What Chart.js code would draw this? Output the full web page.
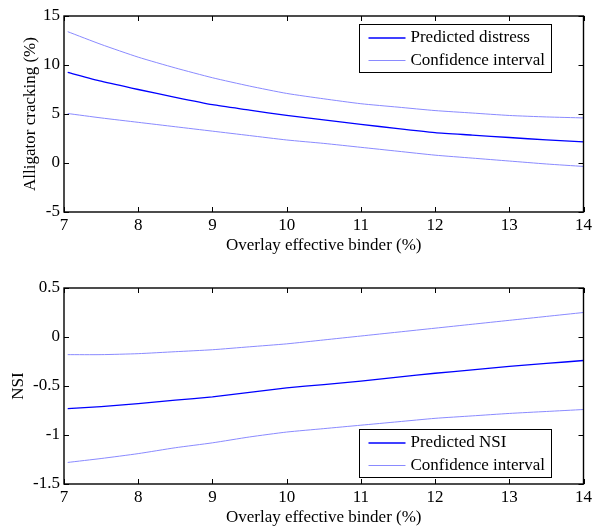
<!DOCTYPE html>
<html lang="en">
<head>
<meta charset="UTF-8">
<title>Overlay effective binder</title>
<script src="https://cdn.jsdelivr.net/npm/chart.js"></script>
<style>
    body { margin: 0; background: #fff; }
    #wrap { position: relative; width: 595px; height: 529px; }
    canvas { position: absolute; left: 0; }
</style>
</head>
<body>
<div id="wrap">
    <canvas id="cracking" width="595" height="257" style="top:0"></canvas>
    <canvas id="nsi" width="595" height="257" style="top:272px"></canvas>
</div>
<script>
// values
const binder = [7.05, 7.5, 8, 8.5, 9, 9.5, 10, 10.5, 11, 11.5, 12, 12.5, 13, 13.5, 14];

const crackPred  = [9.25, 8.35, 7.5, 6.7, 5.95, 5.4, 4.85, 4.4, 3.95, 3.5, 3.1, 2.85, 2.6, 2.35, 2.15];
const crackUpper = [13.4, 12.1, 10.8, 9.7, 8.7, 7.85, 7.1, 6.55, 6.05, 5.7, 5.35, 5.1, 4.85, 4.7, 4.6];
const crackLower = [5.05, 4.6, 4.15, 3.7, 3.25, 2.8, 2.35, 2.0, 1.6, 1.2, 0.8, 0.5, 0.2, -0.1, -0.35];

const nsiPred  = [-0.73, -0.71, -0.68, -0.645, -0.61, -0.565, -0.52, -0.485, -0.45, -0.41, -0.37, -0.335, -0.30, -0.27, -0.24];
const nsiUpper = [-0.18, -0.18, -0.17, -0.15, -0.13, -0.10, -0.07, -0.03, 0.01, 0.05, 0.09, 0.13, 0.17, 0.21, 0.25];
const nsiLower = [-1.28, -1.24, -1.19, -1.13, -1.08, -1.02, -0.97, -0.935, -0.90, -0.865, -0.83, -0.805, -0.78, -0.76, -0.74];

const binderTicks = [7, 8, 9, 10, 11, 12, 13, 14];
const crackTicks = [-5, 0, 5, 10, 15];
const nsiTicks = [-1.5, -1, -0.5, 0, 0.5];

const FONT = "'Times New Roman', 'Liberation Serif', serif";
const DARK = '#0000ff';
const LIGHT = '#8a8aff';

function pts(ys) {
    return binder.map((x, i) => ({ x: x, y: ys[i] }));
}

// MATLAB-like box with inward ticks plus an inset legend
const frame = {
    id: 'frame',
    afterDatasetsDraw(chart, args, opts) {
        const { ctx, chartArea: a, scales: { x, y } } = chart;
        const len = 5;
        ctx.save();
        ctx.strokeStyle = '#000';
        ctx.lineWidth = 1;
        ctx.beginPath();
        x.ticks.forEach(t => {
            const px = Math.round(x.getPixelForValue(t.value)) + 0.5;
            ctx.moveTo(px, a.bottom); ctx.lineTo(px, a.bottom - len);
            ctx.moveTo(px, a.top); ctx.lineTo(px, a.top + len);
        });
        y.ticks.forEach(t => {
            const py = Math.round(y.getPixelForValue(t.value)) + 0.5;
            ctx.moveTo(a.left, py); ctx.lineTo(a.left + len, py);
            ctx.moveTo(a.right, py); ctx.lineTo(a.right - len, py);
        });
        ctx.stroke();
        ctx.lineWidth = 1.4;
        ctx.strokeRect(a.left, a.top, a.right - a.left, a.bottom - a.top);

        // legend
        const items = chart.data.datasets.filter(d => d.inLegend);
        const w = 192, h = 48;
        const bx = Math.round(a.right - opts.right - w) + 0.5;
        const by = opts.top != null ? Math.round(a.top + opts.top) + 0.5 : Math.round(a.bottom - opts.bottom - h) + 0.5;
        ctx.fillStyle = '#fff';
        ctx.fillRect(bx, by, w, h);
        ctx.lineWidth = 1;
        ctx.strokeStyle = '#000';
        ctx.strokeRect(bx, by, w, h);
        ctx.font = '17px ' + FONT;
        ctx.textBaseline = 'middle';
        items.forEach((d, i) => {
            const ry = by + 13.5 + i * 22.5;
            ctx.strokeStyle = d.borderColor;
            ctx.lineWidth = d.borderWidth;
            ctx.beginPath();
            ctx.moveTo(bx + 9, ry); ctx.lineTo(bx + 46, ry);
            ctx.stroke();
            ctx.fillStyle = '#000';
            ctx.fillText(d.label, bx + 51, ry);
        });
        ctx.restore();
    }
};

function makeChart(id, pred, upper, lower, predLabel, yTicks, yTitle, yTitlePad, legendPos) {
    const yMin = yTicks[0], yMax = yTicks[yTicks.length - 1];
    return new Chart(document.getElementById(id), {
        type: 'scatter',
        data: {
            datasets: [
                { label: predLabel, data: pts(pred), borderColor: DARK, borderWidth: 1.3, inLegend: true },
                { label: 'Confidence interval', data: pts(upper), borderColor: LIGHT, borderWidth: 1, inLegend: true },
                { label: 'Confidence interval', data: pts(lower), borderColor: LIGHT, borderWidth: 1 }
            ].map(d => Object.assign(d, { showLine: true, pointRadius: 0, tension: 0.2, fill: false }))
        },
        options: {
            responsive: false,
            animation: false,
            events: [],
            layout: { padding: { top: 16, right: 11, left: 0, bottom: 0 } },
            plugins: {
                legend: { display: false },
                tooltip: { enabled: false },
                frame: legendPos
            },
            scales: {
                x: {
                    type: 'linear',
                    min: 7, max: 14,
                    afterBuildTicks: s => { s.ticks = binderTicks.map(v => ({ value: v })); },
                    afterFit: s => { s.height = 45; },
                    grid: { display: false, drawTicks: false },
                    border: { display: false },
                    ticks: { color: '#000', padding: 3, maxRotation: 0, font: { family: FONT, size: 17 }, callback: v => String(v) },
                    title: { display: true, text: 'Overlay effective binder (%)', color: '#000', font: { family: FONT, size: 17 }, padding: { top: 0, bottom: 1 } }
                },
                y: {
                    type: 'linear',
                    min: yMin, max: yMax,
                    afterBuildTicks: s => { s.ticks = yTicks.map(v => ({ value: v })); },
                    afterFit: s => { s.width = 64; },
                    grid: { display: false, drawTicks: false },
                    border: { display: false },
                    ticks: { color: '#000', padding: 4, font: { family: FONT, size: 17 }, callback: v => String(v) },
                    title: { display: true, text: yTitle, color: '#000', font: { family: FONT, size: 17 }, padding: { top: yTitlePad, bottom: 0 } }
                }
            }
        },
        plugins: [frame]
    });
}

makeChart('cracking', crackPred, crackUpper, crackLower, 'Predicted distress', crackTicks, 'Alligator cracking (%)', 20, { right: 33, top: 8 });
makeChart('nsi', nsiPred, nsiUpper, nsiLower, 'Predicted NSI', nsiTicks, 'NSI', 8, { right: 33, bottom: 7 });
</script>
</body>
</html>
